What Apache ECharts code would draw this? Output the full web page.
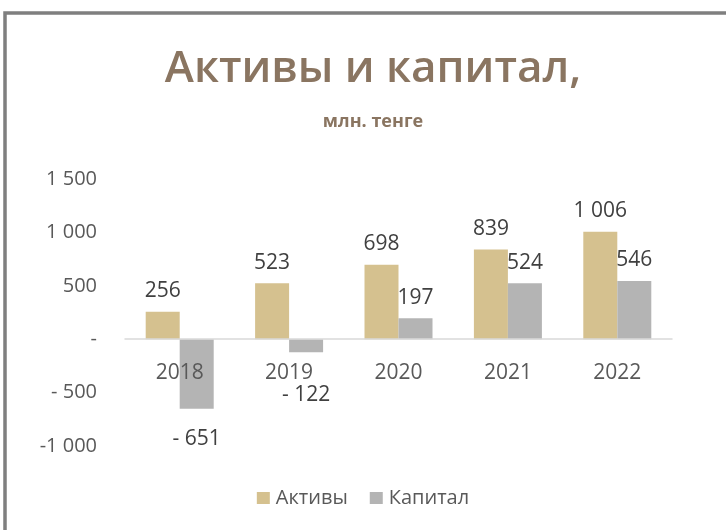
<!DOCTYPE html>
<html>
<head>
<meta charset="utf-8">
<script src="https://cdn.jsdelivr.net/npm/echarts@6/dist/echarts.min.js"></script>
<style>
  html, body { margin: 0; padding: 0; background: #fff; }
  #chart { width: 726px; height: 530px; }
</style>
</head>
<body>
<div id="chart"></div>
<script>
const years = ['2018', '2019', '2020', '2021', '2022'];
const assets = [256, 523, 698, 839, 1006];
const capital = [-651, -122, 197, 524, 546];

// Excel-like number: space as thousand separator, dash for zero
function fmt(v) {
    if (v === 0) return '-';
    const s = Math.abs(v).toString().replace(/\B(?=(\d{3})+(?!\d))/g, ' ');
    if (v < 0) return Math.abs(v) >= 1000 ? '-' + s : '- ' + s;
    return s;
}

// extra drop for the negative capital labels (as placed in the reference)
const capitalDrop = [10, 22, 0, 0, 0];

const font = 'Open Sans';
const labelStyle = {
    show: true,
    position: 'top',
    distance: 10,
    fontSize: 21,
    color: '#404040',
    formatter: p => fmt(p.value)
};

const chart = echarts.init(document.getElementById('chart'));
chart.setOption({
    animation: false,
    textStyle: { fontFamily: font },
    graphic: [{
        type: 'rect',
        shape: { x: 5, y: 13, width: 900, height: 700 },
        style: { fill: null, stroke: '#7f7f7f', lineWidth: 3.5 }
    }],
    title: {
        text: 'Активы и капитал,',
        subtext: 'млн. тенге',
        left: 368,
        textAlign: 'center',
        top: 42,
        itemGap: 22,
        textStyle: { fontFamily: font, fontSize: 44, fontWeight: 600, color: '#8a7561' },
        subtextStyle: { fontFamily: font, fontSize: 18, fontWeight: 'bold', color: '#8a7561' }
    },
    legend: {
        bottom: 17,
        left: 'center',
        itemWidth: 13,
        itemHeight: 12,
        itemGap: 22,
        icon: 'rect',
        textStyle: { fontFamily: font, fontSize: 20, color: '#595959', padding: [0, 0, 0, 1] },
        data: ['Активы', 'Капитал']
    },
    grid: { left: 125, right: 54, top: 179, bottom: 84 },
    xAxis: {
        type: 'category',
        data: years,
        z: 5,
        axisLine: { onZero: true, lineStyle: { color: '#d9d9d9', width: 1.5 } },
        axisTick: { show: false },
        axisLabel: { fontSize: 21, color: '#595959', margin: -83 }
    },
    yAxis: {
        type: 'value',
        min: -1000,
        max: 1500,
        interval: 500,
        splitLine: { show: false },
        axisLabel: {
            fontSize: 20,
            color: '#595959',
            margin: 28,
            formatter: fmt
        }
    },
    series: [{
        name: 'Активы',
        type: 'bar',
        barWidth: 34,
        barGap: '0%',
        itemStyle: { color: '#d5c18f' },
        data: assets,
        label: labelStyle
    }, {
        name: 'Капитал',
        type: 'bar',
        barWidth: 34,
        itemStyle: { color: '#b4b4b4' },
        data: capital.map((v, i) => ({
            value: v,
            label: v < 0 ? { position: 'bottom', offset: [0, capitalDrop[i]] } : {}
        })),
        label: labelStyle
    }]
});
</script>
</body>
</html>
